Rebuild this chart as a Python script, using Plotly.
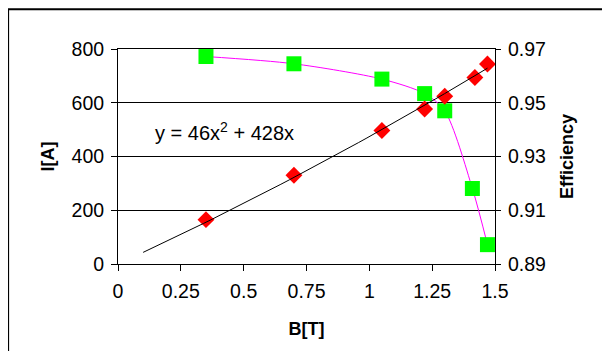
import plotly.graph_objects as go

# Data
b_current = [0.35, 0.70, 1.05, 1.22, 1.30, 1.42, 1.47]
current = [165, 330, 497, 577, 624, 694, 744]

b_eff = [0.35, 0.70, 1.05, 1.22, 1.30, 1.41, 1.47]
efficiency = [0.9672, 0.9645, 0.9588, 0.9534, 0.9470, 0.9181, 0.8972]

# Polynomial trendline y = 46x^2 + 428x (as displayed on the chart)
trend_a, trend_b = 46, 428
trend_x = [0.10 + i * (1.47 - 0.10) / 40 for i in range(41)]
trend_y = [trend_a * x * x + trend_b * x for x in trend_x]

x_ticks = [0, 0.25, 0.5, 0.75, 1, 1.25, 1.5]
i_ticks = [0, 200, 400, 600, 800]
eff_ticks = [0.89, 0.91, 0.93, 0.95, 0.97]

FONT = "Liberation Sans, Arial, sans-serif"

fig = go.Figure()

# Efficiency series (primary y, drawn on right side, below)
fig.add_trace(go.Scatter(
    x=b_eff, y=efficiency, mode="lines+markers",
    line=dict(color="#FF00FF", width=1, shape="spline", smoothing=0.8),
    marker=dict(symbol="square", size=15, color="#00FF00"),
    yaxis="y", showlegend=False))

# Current series on overlay axis (left)
fig.add_trace(go.Scatter(
    x=b_current, y=current, mode="markers",
    marker=dict(symbol="diamond", size=13, color="#FF0000"),
    yaxis="y2", showlegend=False))
fig.add_trace(go.Scatter(
    x=trend_x, y=trend_y, mode="lines",
    line=dict(color="black", width=1),
    yaxis="y2", showlegend=False))

tickfont = dict(family=FONT, size=19.5, color="black")
titlefont = dict(family=FONT, size=18, color="black", weight="bold")

fig.update_layout(
    width=602, height=343,
    margin=dict(l=110, r=115, t=41, b=87),
    paper_bgcolor="white", plot_bgcolor="white",
    xaxis=dict(range=[0, 1.5], tickvals=x_ticks, showgrid=False,
               showline=True, linecolor="black", linewidth=1, mirror=True,
               ticks="outside", ticklen=6, tickcolor="black",
               tickfont=tickfont, ticklabelstandoff=4, zeroline=False,
               automargin=False,
               title=dict(text="B[T]", font=titlefont, standoff=20)),
    yaxis=dict(range=[0.89, 0.97], tickvals=eff_ticks, side="right",
               showgrid=True, gridcolor="black", gridwidth=1,
               showline=True, linecolor="black", linewidth=1,
               ticks="outside", ticklen=5, tickcolor="black",
               tickfont=tickfont, ticklabelstandoff=3, zeroline=False,
               automargin=False,
               title=dict(text="Efficiency", font=titlefont, standoff=15)),
    yaxis2=dict(range=[0, 800], tickvals=i_ticks, side="left", overlaying="y",
                showgrid=False, showline=True, linecolor="black", linewidth=1,
                ticks="outside", ticklen=6, tickcolor="black",
                tickfont=tickfont, ticklabelstandoff=3, zeroline=False,
                automargin=False,
                title=dict(text="I[A]", font=titlefont, standoff=12)),
    annotations=[dict(x=0.138, y=493, xref="x", yref="y2",
                      text="y = 46x<sup>2</sup> + 428x", showarrow=False,
                      xanchor="left", yanchor="middle",
                      font=dict(family=FONT, size=20, color="black"))],
    shapes=[dict(type="rect", xref="paper", yref="paper",
                 x0=-0.2915, x1=1.35, y0=-0.45, y1=1.185,
                 line=dict(color="black", width=2), layer="below")],
)

fig.write_html("out.html")
